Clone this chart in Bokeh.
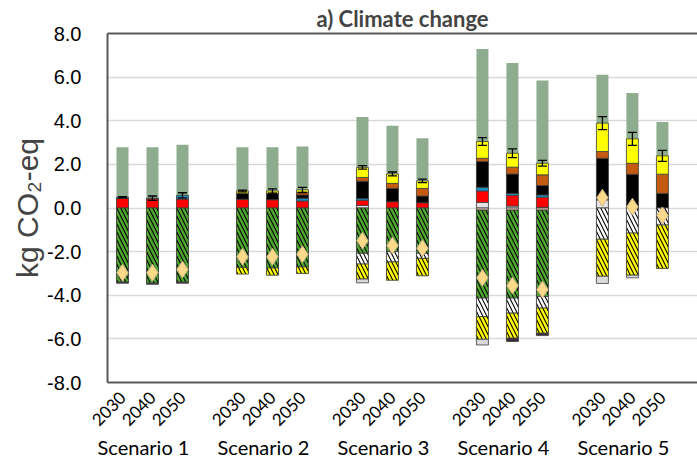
import math
import numpy as np
from bokeh.plotting import figure
from bokeh.models import (ColumnDataSource, FixedTicker, LinearAxis, NumeralTickFormatter,
                          Whisker, TeeHead, Range1d)
from bokeh.embed import file_html
from bokeh.resources import INLINE

scenarios = ["Scenario 1", "Scenario 2", "Scenario 3", "Scenario 4", "Scenario 5"]
years = ["2030", "2040", "2050"]

# Reference bar, drawn behind the contribution stacks (kg CO2-eq)
reference = [2.79, 2.79, 2.90, 2.79, 2.79, 2.82, 4.17, 3.77, 3.20,
             7.29, 6.65, 5.84, 6.11, 5.27, 3.94]

# Emission contributions, stacked upward from zero (one value per scenario/year)
pos_lightgray = [0, 0, 0, 0, 0, 0, 0.12, 0, 0, 0.26, 0.09, 0.03, 0.37, 0.06, 0]
pos_red = [0.45, 0.42, 0.41, 0.40, 0.38, 0.32, 0.23, 0.29, 0.24, 0.52, 0.49, 0.46, 0, 0, 0]
pos_teal = [0.04, 0.03, 0.17, 0, 0, 0.13, 0.08, 0, 0, 0.17, 0.09, 0.11, 0, 0, 0]
pos_black = [0, 0, 0, 0.28, 0.30, 0.15, 0.80, 0.61, 0.31, 1.18, 0.89, 0.43, 1.91, 1.49, 0.67]
pos_brown = [0, 0, 0, 0, 0, 0.12, 0.17, 0.23, 0.35, 0.15, 0.31, 0.49, 0.31, 0.50, 0.88]
pos_yellow = [0, 0, 0, 0.10, 0.10, 0.11, 0.46, 0.43, 0.34, 0.77, 0.64, 0.53, 1.30, 1.12, 0.84]

# Credits, stacked downward from zero
neg_beige = [0, 0, 0, 0, 0, 0, 0, 0, 0, -0.10, -0.10, -0.10, 0, 0, 0]
neg_green = [-3.40, -3.45, -3.40, -2.73, -2.75, -2.70, -2.08, -2.00, -2.08,
             -4.03, -4.03, -3.96, 0, 0, 0]
neg_white = [0, 0, 0, 0, 0, 0, -0.49, -0.47, -0.23, -0.85, -0.69, -0.53, -1.43, -1.15, -0.78]
neg_yellow = [0, 0, 0, -0.30, -0.33, -0.30, -0.69, -0.84, -0.80,
              -1.04, -1.15, -1.15, -1.70, -1.93, -1.99]
neg_gray = [0, 0, 0, 0, 0, 0, -0.17, 0, 0, -0.26, 0, 0, -0.33, -0.12, 0]
neg_dark = [-0.05, -0.05, -0.05, 0, 0, 0, 0, 0, 0, 0, -0.15, -0.11, 0, 0, 0]

# Net result (diamonds) and uncertainty on the emission stack
net = [-2.97, -2.97, -2.82, -2.24, -2.24, -2.12, -1.50, -1.72, -1.84,
       -3.20, -3.56, -3.74, 0.47, 0.06, -0.34]
err = [0.03, 0.10, 0.12, 0.04, 0.10, 0.12, 0.08, 0.09, 0.08,
       0.18, 0.20, 0.13, 0.30, 0.30, 0.25]

# one slot per bar, with an empty slot after each scenario
xpos = [g * 4 + j for g in range(len(scenarios)) for j in range(len(years))]
year_labels = {float(g * 4 + j): years[j] for g in range(len(scenarios)) for j in range(len(years))}
group_pos = [g * 4 + 0.7 for g in range(len(scenarios))]

AXIS = "#595959"
BAR_W = 0.4

p = figure(width=697, height=469, output_backend="svg", toolbar_location=None,
           x_range=Range1d(-0.5, 19.17), y_range=Range1d(-8, 8),
           min_border_left=107, min_border_right=0, min_border_top=6, min_border_bottom=87,
           background_fill_color="white", border_fill_color="white")
p.outline_line_color = None
p.xaxis.visible = False
p.xgrid.visible = False
p.ygrid.grid_line_color = "#D9D9D9"
p.ygrid.grid_line_width = 1.5
p.ygrid.ticker = FixedTicker(ticks=list(range(-8, 9, 2)))

p.title.text = "a) Climate change"
p.title.text_font = "Lato"
p.title.text_font_style = "bold"
p.title.text_font_size = "22px"
p.title.align = "center"
p.title.offset = -10
p.title.standoff = 4

yax = p.yaxis[0]
yax.ticker = FixedTicker(ticks=list(range(-8, 9, 2)))
yax.formatter = NumeralTickFormatter(format="0.0")
yax.major_label_text_font = "Liberation Sans"
yax.major_label_text_font_size = "20px"
yax.major_label_text_color = "#000000"
yax.major_tick_line_color = None
yax.minor_tick_line_color = None
yax.major_label_standoff = 20
yax.axis_line_color = AXIS
yax.axis_line_width = 2
yax.axis_label = "kg CO\u2082-eq"
yax.axis_label_text_font = "Liberation Sans"
yax.axis_label_text_font_style = "normal"
yax.axis_label_text_font_size = "30px"
yax.axis_label_standoff = 0

# top border of the plot area
top_ax = LinearAxis(ticker=FixedTicker(ticks=[]), major_label_text_font_size="0px",
                    major_tick_line_color=None, minor_tick_line_color=None,
                    axis_line_color=AXIS, axis_line_width=2)
p.add_layout(top_ax, "above")

year_ax = LinearAxis(ticker=FixedTicker(ticks=xpos), major_label_overrides=year_labels,
                     major_label_orientation=math.pi / 4,
                     major_label_text_font="Lato", major_label_text_font_size="17px",
                     major_label_text_color="#000000", major_label_standoff=6,
                     major_tick_line_color=None, minor_tick_line_color=None,
                     axis_line_color=AXIS, axis_line_width=2)
p.add_layout(year_ax, "below")

scen_ax = LinearAxis(ticker=FixedTicker(ticks=group_pos),
                     major_label_overrides={float(v): s for v, s in zip(group_pos, scenarios)},
                     major_label_text_font="Lato", major_label_text_font_size="20px",
                     major_label_text_color="#000000", major_label_standoff=-6,
                     major_tick_line_color=None, minor_tick_line_color=None,
                     axis_line_color=None)
p.add_layout(scen_ax, "below")

# reference bars
p.vbar(x=xpos, width=BAR_W, bottom=0, top=reference, fill_color="#8EAD8F", line_color=None)


def draw_stack(layers):
    base = np.zeros(len(xpos))
    for values, style in layers:
        vals = np.array(values, dtype=float)
        top = base + vals
        keep = vals != 0
        src = ColumnDataSource(dict(x=np.array(xpos)[keep], bottom=base[keep], top=top[keep]))
        p.vbar(x="x", width=BAR_W, bottom="bottom", top="top", source=src,
               line_color="#3F3F3F", line_width=0.8, **style)
        base = top
    return base


pos_top = draw_stack([
    (pos_lightgray, dict(fill_color="#E3E3E3")),
    (pos_red, dict(fill_color="#FF0000")),
    (pos_teal, dict(fill_color="#1D8DC4")),
    (pos_black, dict(fill_color="#000000")),
    (pos_brown, dict(fill_color="#C55A11")),
    (pos_yellow, dict(fill_color="#FFFF00")),
])

hatch = dict(hatch_pattern="left_diagonal_line", hatch_scale=8, hatch_weight=2.5)
draw_stack([
    (neg_beige, dict(fill_color="#E8C9B8")),
    (neg_green, dict(fill_color="#000000", hatch_color="#4EA72E", **hatch)),
    (neg_white, dict(fill_color="#000000", hatch_color="#FFFFFF", **hatch)),
    (neg_yellow, dict(fill_color="#000000", hatch_color="#FFFF00", **hatch)),
    (neg_gray, dict(fill_color="#D9D9D9")),
    (neg_dark, dict(fill_color="#3A2A3A")),
])

err_src = ColumnDataSource(dict(x=xpos,
                                upper=pos_top + np.array(err),
                                lower=pos_top - np.array(err)))
p.add_layout(Whisker(source=err_src, base="x", upper="upper", lower="lower", level="overlay",
                     line_color="#000000", line_width=1.3,
                     upper_head=TeeHead(size=9, line_color="#000000", line_width=1.3),
                     lower_head=TeeHead(size=9, line_color="#000000", line_width=1.3)))

p.scatter(x=xpos, y=net, marker="diamond", size=17, fill_color="#FFD98A",
          line_color="#C9B48A", line_width=1, level="overlay")

open("out.html", "w").write(file_html(p, INLINE))
